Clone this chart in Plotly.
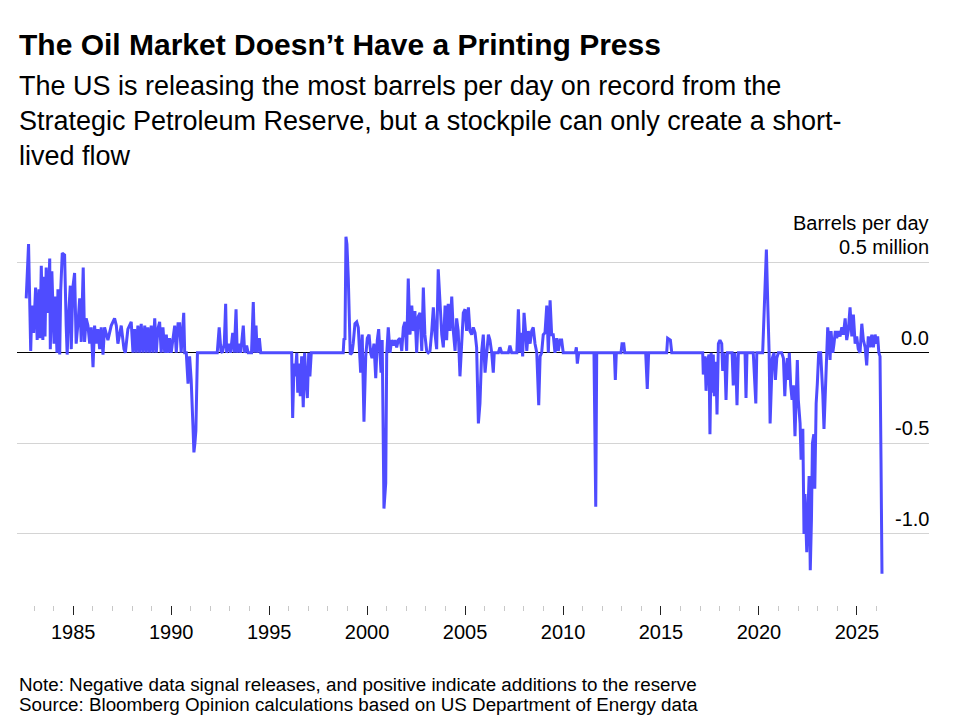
import plotly.graph_objects as go

# Weekly SPR flow, million barrels per day (positive = additions, negative = releases)
# Values, grouped by era

fill_80s_t = [1982.60, 1982.72, 1982.83, 1982.89, 1982.98, 1983.08, 1983.16, 1983.25, 1983.30, 1983.37,
              1983.45, 1983.50, 1983.56, 1983.62, 1983.71, 1983.80, 1983.83, 1983.91, 1984.02, 1984.08,
              1984.17, 1984.22, 1984.31, 1984.36, 1984.44, 1984.56, 1984.64, 1984.69, 1984.77, 1984.85,
              1984.90, 1984.98, 1985.07, 1985.15, 1985.24, 1985.33, 1985.41, 1985.51, 1985.58, 1985.66,
              1985.75, 1985.84, 1985.92, 1986.01, 1986.09, 1986.17, 1986.26, 1986.35, 1986.43, 1986.52,
              1986.60, 1986.77, 1986.94, 1987.11, 1987.20, 1987.28, 1987.45, 1987.59, 1987.66, 1987.79,
              1987.96, 1988.05, 1988.13, 1988.22, 1988.30, 1988.39, 1988.47, 1988.56, 1988.65, 1988.73,
              1988.81, 1988.90, 1988.98, 1989.07, 1989.16, 1989.24, 1989.32, 1989.41, 1989.49, 1989.58,
              1989.67, 1989.75, 1989.83, 1989.92, 1990.00, 1990.09, 1990.18, 1990.26, 1990.35, 1990.43,
              1990.51, 1990.64, 1990.69, 1990.77, 1990.86, 1990.94, 1991.02, 1991.11, 1991.16, 1991.21,
              1991.26, 1991.34]
fill_80s_v = [0.30, 0.60, 0.01, 0.26, 0.11, 0.36, 0.07, 0.35, 0.08, 0.48,
              0.07, 0.42, 0.09, 0.47, 0.22, 0.52, 0.02, 0.45, 0.05, 0.31,
              0.00, 0.35, -0.01, 0.34, 0.55, 0.54, 0.15, -0.01, 0.22, 0.37,
              0.02, 0.36, 0.44, 0.05, 0.16, 0.30, 0.06, 0.47, 0.06, 0.19,
              0.15, 0.05, 0.14, -0.08, 0.15, 0.05, 0.13, 0.02, 0.14, -0.01,
              0.14, 0.07, 0.15, 0.19, 0.15, 0.05, 0.15, 0.02, 0.00, 0.13,
              0.17, 0.00, 0.13, 0.00, 0.15, 0.00, 0.16, 0.00, 0.15, 0.00,
              0.14, 0.00, 0.15, 0.00, 0.19, 0.00, 0.13, 0.17, 0.00, 0.14,
              0.00, 0.10, 0.00, 0.08, 0.00, 0.07, 0.15, 0.00, 0.16, 0.16,
              0.00, 0.22, 0.00, 0.00, -0.17, -0.02, -0.15, -0.40, -0.55, -0.50,
              -0.43, 0.00]

nineties_t = [1992.35, 1992.45, 1992.54, 1992.61, 1992.71, 1992.78, 1992.83, 1992.95, 1993.03, 1993.14,
              1993.22, 1993.31, 1993.37, 1993.46, 1993.55, 1993.68, 1993.75, 1993.85, 1993.93, 1994.10,
              1994.19, 1994.26, 1994.33, 1994.39, 1994.50, 1994.57, 1996.15, 1996.20, 1996.27, 1996.33,
              1996.41, 1996.46, 1996.52, 1996.59, 1996.66, 1996.74, 1996.81, 1996.88, 1996.95, 1997.02,
              1997.08, 1997.15, 1998.78]
nineties_v = [0.00, 0.14, 0.01, 0.00, 0.05, 0.27, 0.00, 0.05, 0.00, 0.11,
              0.00, 0.24, 0.00, 0.05, 0.00, 0.15, 0.00, 0.04, 0.00, 0.00,
              0.28, 0.00, 0.15, 0.00, 0.08, 0.00, 0.00, -0.36, -0.06, -0.13,
              0.00, -0.22, -0.06, -0.24, -0.02, -0.30, 0.00, -0.15, -0.25, 0.00,
              -0.13, 0.00, 0.00]

noughties_t = [1998.82, 1998.87, 1998.92, 1998.97, 1999.04, 1999.09, 1999.14, 1999.23, 1999.29, 1999.38,
               1999.47, 1999.55, 1999.60, 1999.67, 1999.75, 1999.84, 1999.93, 2000.01, 2000.10, 2000.18,
               2000.25, 2000.35, 2000.44, 2000.52, 2000.59, 2000.66, 2000.71, 2000.77, 2000.81, 2000.86,
               2000.95, 2001.00, 2001.08, 2001.17, 2001.25, 2001.34, 2001.42, 2001.51, 2001.59, 2001.68,
               2001.77, 2001.85, 2001.93, 2002.02, 2002.10, 2002.19, 2002.28, 2002.36, 2002.44, 2002.53,
               2002.61, 2002.70, 2002.79, 2002.87, 2002.95, 2003.04, 2003.12, 2003.21, 2003.30, 2003.38,
               2003.47, 2003.55, 2003.63, 2003.72, 2003.81, 2003.89, 2003.98, 2004.06, 2004.14, 2004.23,
               2004.32, 2004.40, 2004.49, 2004.57, 2004.65, 2004.74, 2004.83, 2004.91, 2005.00, 2005.08,
               2005.17, 2005.25, 2005.34, 2005.42, 2005.51, 2005.59, 2005.68, 2005.76, 2005.85, 2005.93,
               2006.02, 2006.10, 2006.19, 2006.27, 2006.36, 2006.44, 2006.49, 2006.70, 2006.78, 2006.87,
               2007.21, 2007.29, 2007.38]
noughties_v = [0.08, 0.07, 0.64, 0.60, 0.41, 0.12, -0.01, 0.00, 0.05, 0.16,
               0.17, 0.14, 0.05, -0.11, 0.10, -0.38, -0.02, 0.08, 0.10, 0.00,
               -0.03, 0.05, -0.14, 0.07, 0.13, 0.00, -0.11, 0.07, -0.42, -0.86,
               -0.72, -0.01, 0.14, 0.00, 0.07, 0.04, 0.07, 0.03, 0.07, 0.08,
               0.01, 0.14, 0.17, 0.01, 0.41, 0.10, 0.26, 0.12, 0.23, 0.00,
               0.20, 0.22, 0.01, 0.36, 0.10, 0.01, 0.00, 0.01, 0.12, 0.25,
               0.10, 0.02, 0.46, 0.25, 0.10, 0.03, 0.26, 0.07, 0.27, 0.12,
               0.31, 0.12, 0.01, 0.19, 0.12, -0.13, 0.07, 0.22, 0.24, 0.12,
               0.25, 0.12, 0.10, 0.14, 0.11, 0.03, -0.39, -0.28, 0.01, 0.10,
               -0.11, 0.01, 0.10, 0.07, 0.00, -0.11, 0.00, 0.00, 0.03, 0.00,
               0.00, 0.04, 0.00]

tens_t = [2007.64, 2007.72, 2007.80, 2007.86, 2007.94, 2008.01, 2008.10, 2008.15, 2008.23, 2008.32,
          2008.40, 2008.48, 2008.57, 2008.66, 2008.76, 2008.83, 2008.91, 2008.99, 2009.08, 2009.17,
          2009.25, 2009.34, 2009.42, 2009.50, 2009.59, 2009.68, 2009.76, 2009.85, 2009.93, 2010.01,
          2010.63, 2010.68, 2010.73, 2010.80, 2011.58, 2011.62, 2011.67, 2011.72, 2012.62, 2012.67,
          2012.72, 2012.96, 2013.01, 2013.10, 2013.15, 2014.22, 2014.30, 2014.37, 2015.29, 2015.34,
          2015.48, 2015.55, 2017.13]
tens_v = [0.00, 0.24, 0.00, 0.11, -0.02, 0.22, 0.10, 0.01, 0.12, 0.05,
          0.12, 0.14, 0.05, 0.00, -0.29, -0.02, 0.00, 0.10, 0.11, 0.26,
          0.00, 0.29, 0.10, 0.10, 0.00, 0.08, 0.01, 0.07, 0.07, 0.00,
          0.00, 0.03, -0.06, 0.00, 0.00, -0.65, -0.85, 0.00, 0.00, -0.15,
          0.00, 0.00, 0.05, 0.05, 0.00, 0.00, -0.20, 0.00, 0.00, 0.08,
          0.07, 0.00, 0.00]

recent_t = [2017.16, 2017.25, 2017.30, 2017.37, 2017.45, 2017.50, 2017.56, 2017.62, 2017.67, 2017.72,
            2017.80, 2017.86, 2017.93, 2018.01, 2018.10, 2018.15, 2018.22, 2018.27, 2018.32, 2018.39,
            2018.63, 2018.69, 2018.76, 2018.82, 2018.88, 2018.95, 2019.29, 2019.34, 2019.39, 2019.71,
            2019.84, 2019.89, 2020.19, 2020.26, 2020.38, 2020.45, 2020.52, 2020.57, 2020.62, 2020.68,
            2020.77, 2020.84, 2020.91, 2020.99, 2021.16, 2021.25, 2021.32, 2021.38, 2021.45, 2021.50,
            2021.55, 2021.62, 2021.69, 2021.76, 2021.84, 2021.96, 2022.01, 2022.10, 2022.15, 2022.24,
            2022.30, 2022.35, 2022.44, 2022.49, 2022.56, 2022.62, 2022.68, 2022.73, 2022.80, 2022.85,
            2022.92, 2022.98, 2023.05, 2023.15, 2023.22, 2023.26, 2023.32, 2023.39, 2023.46, 2023.51,
            2023.58, 2023.63, 2023.68, 2023.77, 2023.83, 2023.90, 2023.97, 2024.05, 2024.14, 2024.23,
            2024.31, 2024.40, 2024.48, 2024.56, 2024.65, 2024.74, 2024.82, 2024.91, 2024.99, 2025.07,
            2025.16, 2025.25, 2025.33, 2025.42, 2025.50, 2025.58, 2025.67, 2025.76, 2025.84, 2025.93,
            2026.01, 2026.06, 2026.12, 2026.18, 2026.23, 2026.28]
recent_v = [-0.12, -0.02, -0.21, -0.05, -0.01, -0.45, 0.00, -0.22, -0.01, -0.24,
            -0.05, -0.34, 0.05, 0.07, 0.05, -0.10, 0.00, -0.07, -0.26, 0.00,
            0.00, -0.18, 0.00, -0.06, -0.29, 0.00, 0.00, -0.25, 0.00, 0.00,
            -0.28, 0.00, 0.00, 0.25, 0.57, 0.27, 0.00, -0.39, -0.15, -0.03,
            0.00, -0.15, -0.03, 0.00, 0.00, -0.03, -0.24, -0.09, -0.03, -0.15,
            0.00, -0.18, -0.26, -0.18, -0.46, -0.04, -0.26, -0.39, -0.59, -0.42,
            -1.00, -0.78, -1.10, -0.94, -0.68, -1.20, -0.92, -0.50, -0.45, -0.75,
            -0.28, -0.17, 0.00, 0.00, -0.11, -0.23, -0.42, -0.20, -0.02, 0.14,
            0.07, -0.04, 0.12, 0.00, 0.05, 0.12, 0.08, 0.12, 0.09, 0.14,
            0.10, 0.19, 0.07, 0.12, 0.25, 0.09, 0.21, 0.05, 0.09, 0.02,
            0.00, 0.16, 0.07, 0.03, -0.07, 0.09, 0.03, 0.10, 0.03, 0.10,
            0.05, 0.09, 0.00, -0.02, -0.59, -1.22]

major_years = [1985, 1990, 1995, 2000, 2005, 2010, 2015, 2020, 2025]
minor_years = list(range(1983, 2027))
grid_vals = [-1.0, -0.5, 0.0, 0.5]
grid_labels = ["-1.0", "-0.5", "0.0", "0.5 million"]

years = fill_80s_t + nineties_t + noughties_t + tens_t + recent_t
flow = fill_80s_v + nineties_v + noughties_v + tens_v + recent_v

FONT = "Liberation Sans"

fig = go.Figure()
fig.add_trace(go.Scatter(
    x=years, y=flow, mode="lines",
    line=dict(color="#4f4cff", width=3),
    hoverinfo="skip", showlegend=False,
))

annotations = []
for v, lab in zip(grid_vals, grid_labels):
    annotations.append(dict(
        x=1, xref="paper", y=v, yref="y", text=lab, showarrow=False,
        xanchor="right", yanchor="bottom", xshift=2, yshift=2,
        font=dict(family=FONT, size=20, color="black"),
    ))
annotations.append(dict(
    x=1, xref="paper", y=0.5, yref="y", text="Barrels per day", showarrow=False,
    xanchor="right", yanchor="bottom", xshift=2, yshift=26,
    font=dict(family=FONT, size=20, color="black"),
))
annotations.append(dict(
    x=0, xref="paper", y=1.474, yref="paper", xanchor="left", yanchor="middle",
    text="<b>The Oil Market Doesn’t Have a Printing Press</b>", showarrow=False,
    font=dict(family=FONT, size=30, color="black"),
))
annotations.append(dict(
    x=0, xref="paper", y=1.274, yref="paper", xanchor="left", yanchor="middle", align="left",
    text="The US is releasing the most barrels per day on record from the<br>"
         "Strategic Petroleum Reserve, but a stockpile can only create a short-<br>"
         "lived flow",
    showarrow=False, font=dict(family=FONT, size=27, color="black"),
))
annotations.append(dict(
    x=0, xref="paper", y=-0.208, yref="paper", xanchor="left", yanchor="middle",
    text="Note: Negative data signal releases, and positive indicate additions to the reserve",
    showarrow=False, font=dict(family=FONT, size=18.8, color="black"),
))
annotations.append(dict(
    x=0, xref="paper", y=-0.263, yref="paper", xanchor="left", yanchor="middle",
    text="Source: Bloomberg Opinion calculations based on US Department of Energy data",
    showarrow=False, font=dict(family=FONT, size=18.8, color="black"),
))

fig.update_layout(
    width=950, height=716,
    margin=dict(l=9, r=29, t=217, b=119),
    paper_bgcolor="white", plot_bgcolor="white",
    annotations=annotations,
    xaxis=dict(
        range=[1982.13, 2028.68],
        tickmode="array", tickvals=major_years, ticktext=[str(y) for y in major_years],
        ticks="outside", ticklen=9, tickwidth=1, tickcolor="#222222",
        tickfont=dict(family=FONT, size=20, color="black"),
        showgrid=False, zeroline=False, showline=False,
        minor=dict(tickmode="array", tickvals=minor_years, ticks="outside",
                   ticklen=5, tickwidth=1, tickcolor="#c8c8c8", showgrid=False),
    ),
    yaxis=dict(
        range=[-1.392, 0.705],
        tickmode="array", tickvals=grid_vals, showticklabels=False,
        showgrid=True, gridcolor="#d4d4d4", gridwidth=1,
        zeroline=True, zerolinecolor="black", zerolinewidth=1,
    ),
)

fig.write_html("out.html")
